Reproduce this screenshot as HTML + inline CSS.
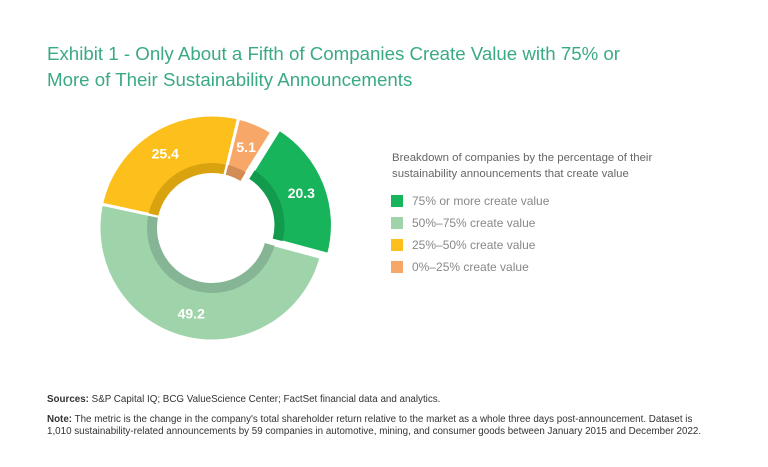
<!DOCTYPE html>
<html><head><meta charset="utf-8"><style>
body{margin:0;width:768px;height:467px;background:#fff;font-family:"Liberation Sans",sans-serif;position:relative;overflow:hidden}
.t{position:absolute;white-space:nowrap}
</style></head><body>
<div class="t" style="left:47px;top:41px;font-size:18.7px;line-height:26px;color:#3aaa84">Exhibit 1 - Only About a Fifth of Companies Create Value with 75% or<br>More of Their Sustainability Announcements</div>
<svg id="c" width="768" height="467" style="position:absolute;left:0;top:0"></svg>
<div class="t" style="left:392px;top:150px;font-size:11.4px;line-height:16px;color:#666">Breakdown of companies by the percentage of their<br>sustainability announcements that create value</div>
<div id="legend"></div>
<div class="t" style="left:47px;top:394px;font-size:9.8px;color:#333"><b>Sources:</b> S&amp;P Capital IQ; BCG ValueScience Center; FactSet financial data and analytics.</div>
<div class="t" style="left:47px;top:414px;font-size:9.8px;line-height:12px;color:#333"><b>Note:</b> The metric is the change in the company's total shareholder return relative to the market as a whole three days post-announcement. Dataset is<br>1,010 sustainability-related announcements by 59 companies in automotive, mining, and consumer goods between January 2015 and December 2022.</div>
<script>
const categories=["75% or more create value","50%–75% create value","25%–50% create value","0%–25% create value"];
const values=[20.3,49.2,25.4,5.1];
const colors=["#17b45c","#9fd4ab","#fdbf1b","#f7a868"];
const darks=["#129a4d","#86b595","#d9a30f","#d38c55"];
const svg=document.getElementById('c');const NS='http://www.w3.org/2000/svg';
const cx=212,cy=228,R=113,r=55,rd=65;
const total=values.reduce((a,b)=>a+b,0);
let start=32;
function pt(a,rad,ox,oy){const t=(a-90)*Math.PI/180;return [cx+ox+rad*Math.cos(t),cy+oy+rad*Math.sin(t)];}
function arc(a0,a1,ro,ri,ox,oy){const L=(a1-a0)>180?1:0;const p1=pt(a0,ro,ox,oy),p2=pt(a1,ro,ox,oy),p3=pt(a1,ri,ox,oy),p4=pt(a0,ri,ox,oy);
return `M${p1}A${ro},${ro} 0 ${L} 1 ${p2}L${p3}A${ri},${ri} 0 ${L} 0 ${p4}Z`;}
values.forEach((v,i)=>{
 const a0=start,a1=start+v/total*360;start=a1;
 const mid=(a0+a1)/2;let ox=0,oy=0;
 if(i===0){const t=(mid-90)*Math.PI/180;ox=8*Math.cos(t);oy=8*Math.sin(t);}
 const p=document.createElementNS(NS,'path');
 p.setAttribute('d',arc(a0,a1,R,r,ox,oy));p.setAttribute('fill',colors[i]);p.setAttribute('stroke','#fff');p.setAttribute('stroke-width','3');
 
 
 svg.appendChild(p);
 const q=document.createElementNS(NS,'path');
 q.setAttribute('d',arc(a0+0.8,a1-0.8,rd,r,ox,oy));q.setAttribute('fill',darks[i]);
 
 
 svg.appendChild(q);
 const lp=pt(mid,88,ox,oy);
 const tx=document.createElementNS(NS,'text');
 tx.setAttribute('x',lp[0]);tx.setAttribute('y',lp[1]+5);tx.setAttribute('text-anchor','middle');
 tx.setAttribute('font-size','14');tx.setAttribute('font-weight','bold');tx.setAttribute('fill','#fff');tx.setAttribute('font-family','Liberation Sans, sans-serif');
 tx.textContent=v.toFixed(1);
 
 
 svg.appendChild(tx);
});
const lg=document.getElementById('legend');
categories.forEach((c,i)=>{
 const d=document.createElement('div');d.className='t';
 d.style.cssText=`left:391px;top:${194+i*22}px;font-size:12px;color:#888;line-height:14px`;
 d.innerHTML=`<span style="display:inline-block;width:12px;height:12px;background:${colors[i]};vertical-align:-2px;margin-right:9px"></span>${c}`;
 
 
 lg.appendChild(d);
});
</script>
</body></html>
